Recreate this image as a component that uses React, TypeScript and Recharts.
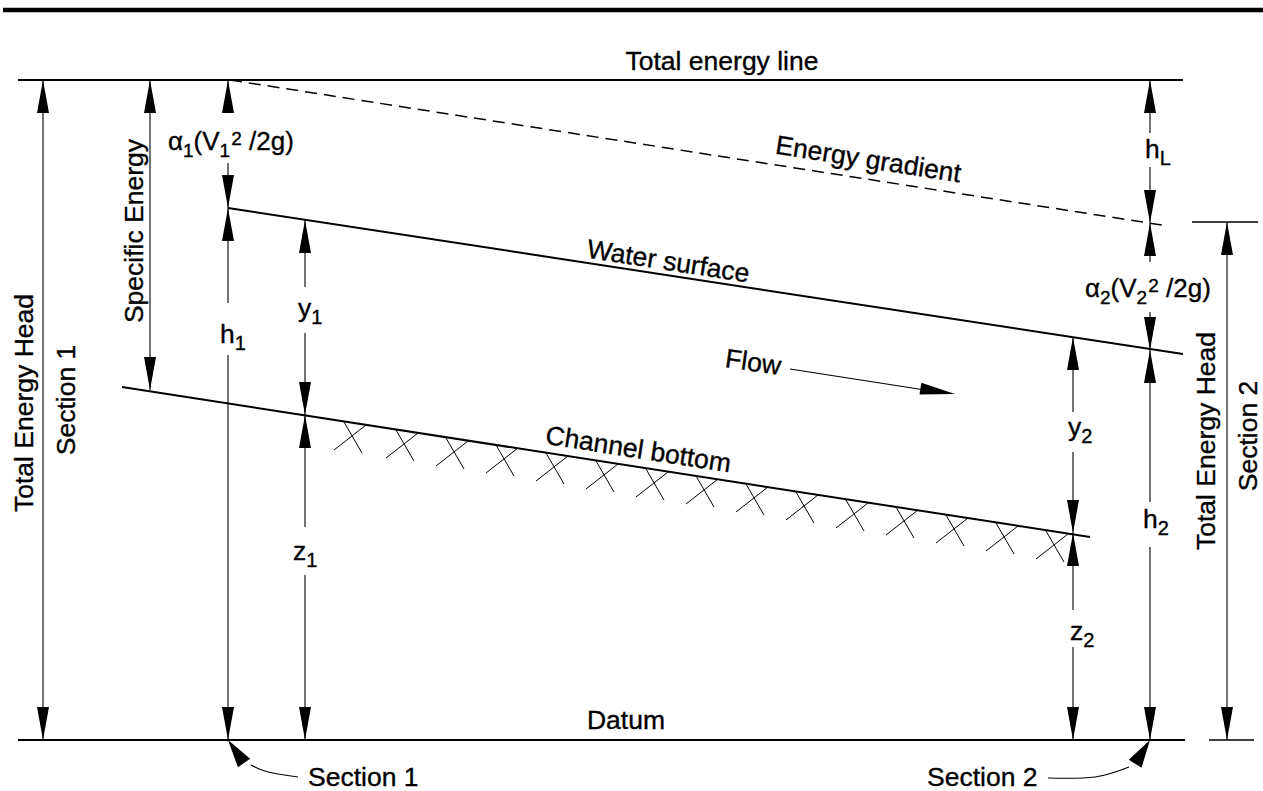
import React from 'react';
import { ComposedChart, XAxis, YAxis, ReferenceLine, Scatter, Line } from 'recharts';

const FONT = '"Liberation Sans", Arial, Helvetica, sans-serif';

type P = { x: number; y: number };

// ---- profile lines (diagram coordinates: x along channel, y downward) ----
const headerRule: P[] = [{ x: 3, y: 10 }, { x: 1263, y: 10 }];
const totalEnergyLine: P[] = [{ x: 18, y: 80 }, { x: 1183, y: 80 }];
const datumLine: P[] = [{ x: 18, y: 740 }, { x: 1185, y: 740 }];
const waterSurface: P[] = [{ x: 228, y: 208 }, { x: 1183, y: 354 }];
const channelBottom: P[] = [{ x: 122, y: 387 }, { x: 1090, y: 537 }];
const energyGradient: P[] = [{ x: 230, y: 80 }, { x: 1168, y: 226 }];
const section2Ticks: P[][] = [
  [{ x: 1192, y: 222 }, { x: 1258, y: 222 }],
  [{ x: 1209, y: 740 }, { x: 1254, y: 740 }],
];
const flowShaft: P[] = [{ x: 790, y: 369 }, { x: 925, y: 390 }];
const leaderSection1: P[] = [{ x: 251, y: 765 }, { x: 268, y: 772 }, { x: 298, y: 777 }];
const leaderSection2: P[] = [{ x: 1048, y: 778 }, { x: 1095, y: 777 }, { x: 1129, y: 767 }];

// ---- dimension lines (vertical) ----
const dimensionSegments = [
  { x: 43, from: 80, to: 740 },
  { x: 150, from: 80, to: 390 },
  { x: 228, from: 80, to: 113 },
  { x: 228, from: 163, to: 303 },
  { x: 228, from: 355, to: 740 },
  { x: 305, from: 220, to: 287 },
  { x: 305, from: 333, to: 527 },
  { x: 305, from: 575, to: 740 },
  { x: 1150, from: 80, to: 133 },
  { x: 1150, from: 167, to: 262 },
  { x: 1150, from: 312, to: 502 },
  { x: 1150, from: 547, to: 740 },
  { x: 1073, from: 337, to: 412 },
  { x: 1073, from: 452, to: 610 },
  { x: 1073, from: 647, to: 740 },
  { x: 1227, from: 222, to: 740 },
];

// ---- arrow tips: angle in degrees (0 = right, 90 = down, -90 = up) ----
const dimensionArrows = [
  { x: 43, y: 80, angle: -90 }, { x: 43, y: 740, angle: 90 },
  { x: 150, y: 80, angle: -90 }, { x: 150, y: 390, angle: 90 },
  { x: 228, y: 80, angle: -90 }, { x: 228, y: 208, angle: 90 },
  { x: 228, y: 208, angle: -90 }, { x: 228, y: 740, angle: 90 },
  { x: 305, y: 220, angle: -90 }, { x: 305, y: 415, angle: 90 },
  { x: 305, y: 415, angle: -90 }, { x: 305, y: 740, angle: 90 },
  { x: 1150, y: 80, angle: -90 }, { x: 1150, y: 223, angle: 90 },
  { x: 1150, y: 223, angle: -90 }, { x: 1150, y: 350, angle: 90 },
  { x: 1150, y: 350, angle: -90 }, { x: 1150, y: 740, angle: 90 },
  { x: 1073, y: 337, angle: -90 }, { x: 1073, y: 533, angle: 90 },
  { x: 1073, y: 533, angle: -90 }, { x: 1073, y: 740, angle: 90 },
  { x: 1227, y: 222, angle: -90 }, { x: 1227, y: 740, angle: 90 },
];
const leaderArrows = [
  { x: 228, y: 740, angle: -125 },
  { x: 1150, y: 740, angle: -58 },
];
const flowArrow = [{ x: 955, y: 394, angle: 8.8 }];

// ---- hatching under the channel bottom ----
const hatchPoints: P[] = [
  { x: 366, y: 425 }, { x: 418, y: 433 }, { x: 468, y: 441 }, { x: 518, y: 448 },
  { x: 568, y: 456 }, { x: 618, y: 464 }, { x: 668, y: 472 }, { x: 718, y: 479 },
  { x: 768, y: 487 }, { x: 818, y: 495 }, { x: 868, y: 503 }, { x: 918, y: 510 },
  { x: 968, y: 518 }, { x: 1018, y: 526 }, { x: 1068, y: 534 },
];

// ---- text ----
const plainLabels = [
  { x: 722, y: 70, text: 'Total energy line', angle: 0, anchor: 'middle' },
  { x: 867, y: 168, text: 'Energy gradient', angle: 8.85, anchor: 'middle' },
  { x: 667, y: 270, text: 'Water surface', angle: 8.7, anchor: 'middle' },
  { x: 637, y: 458, text: 'Channel bottom', angle: 8.8, anchor: 'middle' },
  { x: 752, y: 371, text: 'Flow', angle: 8, anchor: 'middle' },
  { x: 626, y: 729, text: 'Datum', angle: 0, anchor: 'middle' },
  { x: 308, y: 786, text: 'Section 1', angle: 0, anchor: 'start' },
  { x: 927, y: 786, text: 'Section 2', angle: 0, anchor: 'start' },
  { x: 33, y: 403, text: 'Total Energy Head', angle: -90, anchor: 'middle' },
  { x: 75, y: 400, text: 'Section 1', angle: -90, anchor: 'middle' },
  { x: 143, y: 231, text: 'Specific Energy', angle: -90, anchor: 'middle' },
  { x: 1215, y: 441, text: 'Total Energy Head', angle: -90, anchor: 'middle' },
  { x: 1257, y: 436, text: 'Section 2', angle: -90, anchor: 'middle' },
];

const symbolLabels = [
  { x: 1145, y: 158, base: 'h', sub: 'L' },
  { x: 220, y: 343, base: 'h', sub: '1' },
  { x: 298, y: 317, base: 'y', sub: '1' },
  { x: 293, y: 560, base: 'z', sub: '1' },
  { x: 1143, y: 528, base: 'h', sub: '2' },
  { x: 1068, y: 436, base: 'y', sub: '2' },
  { x: 1070, y: 640, base: 'z', sub: '2' },
];

const velocityHeadLabels = [
  { x: 168, y: 150, sub: '1' },
  { x: 1085, y: 297, sub: '2' },
];

// ---- shapes ----
const ARROW_SIZES: Record<string, [number, number]> = {
  dim: [33, 6],
  leader: [28, 7.5],
  flow: [35, 6],
};

const TEXT_STYLE = {
  fontFamily: FONT,
  fill: '#000',
  stroke: '#000',
  strokeWidth: 0.35,
};

const makeArrow = (kind: string) => (props: any) => {
  const { cx, cy, payload } = props;
  if (cx == null || cy == null) return <g />;
  const [len, half] = ARROW_SIZES[kind];
  const a = (payload.angle * Math.PI) / 180;
  const dx = Math.cos(a);
  const dy = Math.sin(a);
  const bx = cx - len * dx;
  const by = cy - len * dy;
  const pts = `${cx},${cy} ${bx - half * dy},${by + half * dx} ${bx + half * dy},${by - half * dx}`;
  return <polygon points={pts} fill="#000" stroke="none" />;
};

const HatchShape = (props: any) => {
  const { cx, cy } = props;
  if (cx == null || cy == null) return <g />;
  return (
    <g stroke="#000" strokeWidth={1} fill="none">
      <line x1={cx} y1={cy} x2={cx - 32} y2={cy + 25} />
      <line x1={cx - 22} y1={cy - 3} x2={cx - 4} y2={cy + 28} />
    </g>
  );
};

const PlainText = (props: any) => {
  const { cx, cy, payload } = props;
  if (cx == null || cy == null) return <g />;
  return (
    <text
      x={cx}
      y={cy}
      textAnchor={payload.anchor}
      fontSize={26.5}
      {...TEXT_STYLE}
      transform={payload.angle ? `rotate(${payload.angle} ${cx} ${cy})` : undefined}
    >
      {payload.text}
    </text>
  );
};

const SymbolText = (props: any) => {
  const { cx, cy, payload } = props;
  if (cx == null || cy == null) return <g />;
  return (
    <text x={cx} y={cy} fontSize={26.5} {...TEXT_STYLE}>
      {payload.base}
      <tspan fontSize={20} dy={7}>{payload.sub}</tspan>
    </text>
  );
};

const VelocityHeadText = (props: any) => {
  const { cx, cy, payload } = props;
  if (cx == null || cy == null) return <g />;
  return (
    <text x={cx} y={cy} fontSize={26} {...TEXT_STYLE}>
      α
      <tspan fontSize={19} dy={7}>{payload.sub}</tspan>
      <tspan dy={-7}>(V</tspan>
      <tspan fontSize={19} dy={7}>{payload.sub}</tspan>
      <tspan fontSize={19} dy={-12} dx={1}>2</tspan>
      <tspan dy={5}> /2g)</tspan>
    </text>
  );
};

const seg = (pts: P[]) => [pts[0], pts[1]] as any;

export default function App() {
  return (
    <div style={{ position: 'absolute', left: 0, top: 0, width: 1263, height: 791, background: '#fff' }}>
      <ComposedChart width={1263} height={791} margin={{ top: 0, right: 0, bottom: 0, left: 0 }}>
        <XAxis type="number" dataKey="x" domain={[0, 1263]} hide allowDataOverflow />
        <YAxis type="number" dataKey="y" domain={[0, 791]} reversed hide allowDataOverflow />

        <ReferenceLine segment={seg(headerRule)} stroke="#000" strokeWidth={4.5} ifOverflow="visible" />
        <ReferenceLine segment={seg(totalEnergyLine)} stroke="#000" strokeWidth={2} ifOverflow="visible" />
        <ReferenceLine segment={seg(datumLine)} stroke="#000" strokeWidth={2} ifOverflow="visible" />
        <ReferenceLine segment={seg(waterSurface)} stroke="#000" strokeWidth={2} ifOverflow="visible" />
        <ReferenceLine segment={seg(channelBottom)} stroke="#000" strokeWidth={2} ifOverflow="visible" />
        <ReferenceLine segment={seg(energyGradient)} stroke="#000" strokeWidth={1.5} strokeDasharray="12 7" ifOverflow="visible" />
        {section2Ticks.map((t, i) => (
          <ReferenceLine key={`t${i}`} segment={seg(t)} stroke="#000" strokeWidth={1.3} ifOverflow="visible" />
        ))}
        <ReferenceLine segment={seg(flowShaft)} stroke="#000" strokeWidth={1.2} ifOverflow="visible" />
        {dimensionSegments.map((d, i) => (
          <ReferenceLine
            key={`d${i}`}
            segment={[{ x: d.x, y: d.from }, { x: d.x, y: d.to }]}
            stroke="#000"
            strokeWidth={1.1}
            ifOverflow="visible"
          />
        ))}

        <Line data={leaderSection1} dataKey="y" type="natural" stroke="#000" strokeWidth={1.2} dot={false} isAnimationActive={false} />
        <Line data={leaderSection2} dataKey="y" type="natural" stroke="#000" strokeWidth={1.2} dot={false} isAnimationActive={false} />

        <Scatter data={hatchPoints} dataKey="y" shape={HatchShape} isAnimationActive={false} />
        <Scatter data={dimensionArrows} dataKey="y" shape={makeArrow('dim')} isAnimationActive={false} />
        <Scatter data={leaderArrows} dataKey="y" shape={makeArrow('leader')} isAnimationActive={false} />
        <Scatter data={flowArrow} dataKey="y" shape={makeArrow('flow')} isAnimationActive={false} />
        <Scatter data={plainLabels} dataKey="y" shape={PlainText} isAnimationActive={false} />
        <Scatter data={symbolLabels} dataKey="y" shape={SymbolText} isAnimationActive={false} />
        <Scatter data={velocityHeadLabels} dataKey="y" shape={VelocityHeadText} isAnimationActive={false} />
      </ComposedChart>
    </div>
  );
}
